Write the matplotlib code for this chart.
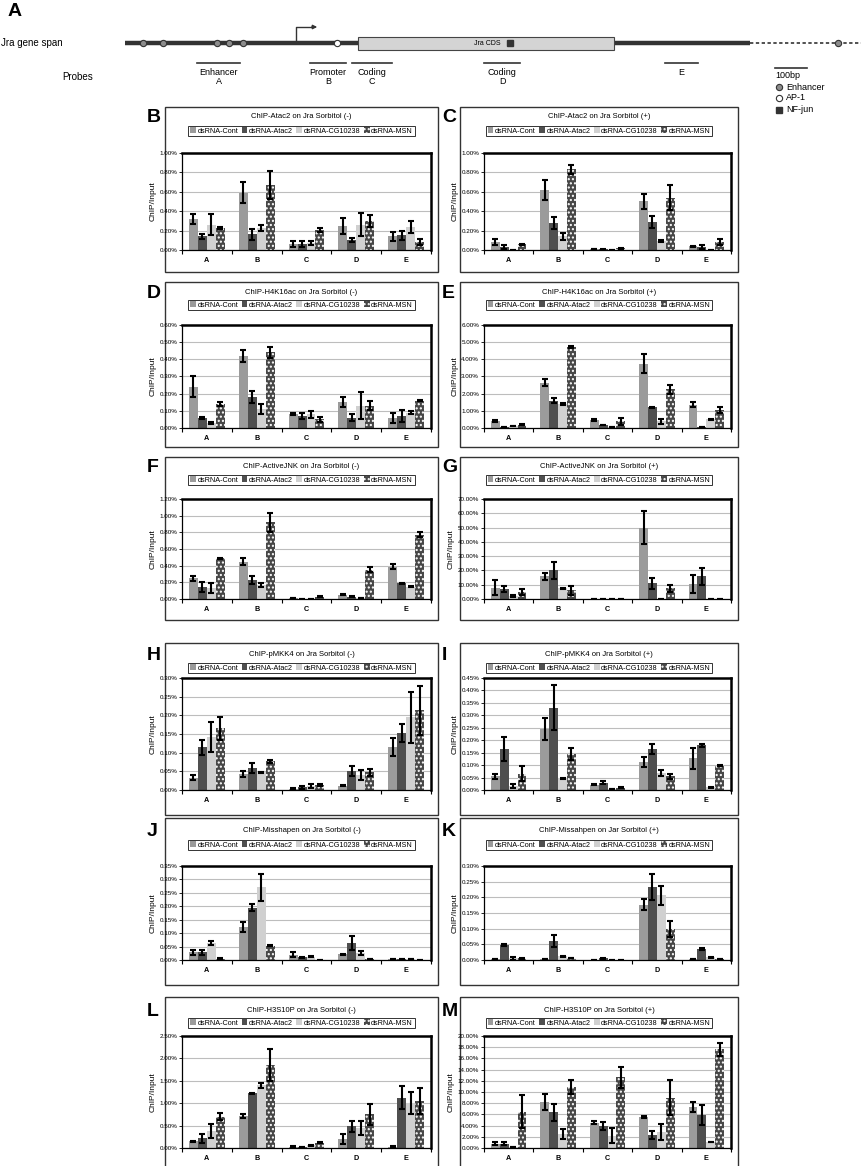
import numpy as np
import matplotlib
matplotlib.use('Agg')
import matplotlib.pyplot as plt
from matplotlib.patches import Rectangle, Patch
from matplotlib.ticker import FuncFormatter

plt.rcParams['font.family'] = ['Liberation Sans', 'DejaVu Sans']
plt.rcParams['hatch.linewidth'] = 1.0

W, H = 861, 1166

probes = ['A', 'B', 'C', 'D', 'E']
series = ['dsRNA-Cont', 'dsRNA-Atac2', 'dsRNA-CG10238', 'dsRNA-MSN']
colors = ['#9b9b9b', '#4f4f4f', '#d0d0d0', '#474747']
msn_hatch = '....'

#
# values in percent ChIP/input, one row per probe (A..E),
# one column per dsRNA (Cont, Atac2, CG10238, MSN)
#
atac2_minus = [[0.32, 0.14, 0.26, 0.23], [0.59, 0.16, 0.23, 0.67], [0.06, 0.06, 0.07, 0.21],
               [0.25, 0.10, 0.26, 0.30], [0.14, 0.15, 0.24, 0.08]]
atac2_minus_err = [[0.05, 0.03, 0.11, 0.01], [0.11, 0.06, 0.03, 0.14], [0.03, 0.03, 0.02, 0.02],
                   [0.08, 0.02, 0.12, 0.06], [0.05, 0.05, 0.06, 0.03]]
atac2_plus = [[0.08, 0.03, 0.005, 0.06], [0.62, 0.28, 0.14, 0.83], [0.01, 0.01, 0.0, 0.02],
              [0.50, 0.29, 0.09, 0.54], [0.04, 0.03, 0.0, 0.08]]
atac2_plus_err = [[0.03, 0.02, 0.0, 0.005], [0.10, 0.06, 0.04, 0.05], [0.0, 0.005, 0.0, 0.005],
                  [0.08, 0.06, 0.01, 0.13], [0.005, 0.02, 0.0, 0.03]]
h4k16_minus = [[0.24, 0.06, 0.03, 0.14], [0.42, 0.18, 0.11, 0.44], [0.08, 0.07, 0.08, 0.05],
               [0.15, 0.06, 0.13, 0.13], [0.06, 0.07, 0.09, 0.16]]
h4k16_minus_err = [[0.06, 0.005, 0.005, 0.01], [0.035, 0.035, 0.03, 0.03], [0.005, 0.015, 0.02, 0.015],
                   [0.03, 0.02, 0.08, 0.025], [0.03, 0.035, 0.01, 0.005]]
h4k16_plus = [[0.40, 0.08, 0.10, 0.20], [2.65, 1.60, 1.40, 4.70], [0.45, 0.18, 0.08, 0.40],
              [3.75, 1.20, 0.40, 2.25], [1.35, 0.08, 0.50, 1.05]]
h4k16_plus_err = [[0.05, 0.0, 0.0, 0.05], [0.20, 0.12, 0.05, 0.05], [0.05, 0.0, 0.0, 0.20],
                  [0.55, 0.05, 0.15, 0.25], [0.15, 0.0, 0.02, 0.15]]
jnk_minus = [[0.25, 0.15, 0.13, 0.49], [0.45, 0.23, 0.17, 0.92], [0.01, 0.0, 0.0, 0.03],
             [0.05, 0.03, 0.01, 0.35], [0.39, 0.19, 0.15, 0.77]]
jnk_minus_err = [[0.03, 0.06, 0.06, 0.005], [0.04, 0.05, 0.02, 0.11], [0.0, 0.0, 0.0, 0.005],
                 [0.005, 0.005, 0.0, 0.03], [0.03, 0.005, 0.005, 0.03]]
jnk_plus = [[8.0, 7.0, 2.0, 5.0], [16.0, 20.0, 7.5, 6.0], [0.0, 0.0, 0.0, 0.0],
            [50.0, 11.0, 0.3, 7.5], [10.5, 16.0, 0.3, 0.2]]
jnk_plus_err = [[5.0, 2.0, 0.5, 2.0], [2.5, 6.0, 0.5, 3.0], [0.0, 0.0, 0.0, 0.0],
                [11.5, 4.0, 0.0, 2.5], [6.0, 6.0, 0.0, 0.0]]
mkk4_minus = [[0.033, 0.115, 0.142, 0.165], [0.043, 0.058, 0.047, 0.077], [0.004, 0.007, 0.010, 0.014],
              [0.012, 0.050, 0.040, 0.047], [0.115, 0.153, 0.195, 0.213]]
mkk4_minus_err = [[0.007, 0.02, 0.04, 0.03], [0.008, 0.013, 0.002, 0.004], [0.001, 0.005, 0.005, 0.002],
                  [0.002, 0.013, 0.013, 0.01], [0.023, 0.025, 0.068, 0.065]]
mkk4_plus = [[0.055, 0.165, 0.015, 0.065], [0.245, 0.33, 0.047, 0.145], [0.022, 0.030, 0.005, 0.010],
             [0.113, 0.165, 0.070, 0.055], [0.128, 0.180, 0.012, 0.097]]
mkk4_plus_err = [[0.01, 0.048, 0.008, 0.03], [0.043, 0.09, 0.002, 0.025], [0.003, 0.005, 0.0, 0.002],
                 [0.02, 0.02, 0.012, 0.01], [0.042, 0.006, 0.002, 0.002]]
msn_minus = [[0.028, 0.028, 0.063, 0.005], [0.123, 0.195, 0.270, 0.053], [0.020, 0.010, 0.012, 0.0],
             [0.022, 0.063, 0.025, 0.003], [0.003, 0.005, 0.005, 0.0]]
msn_minus_err = [[0.01, 0.01, 0.008, 0.001], [0.018, 0.012, 0.05, 0.002], [0.01, 0.002, 0.002, 0.0],
                 [0.002, 0.025, 0.007, 0.0], [0.0, 0.0, 0.0, 0.0]]
msn_plus = [[0.003, 0.047, 0.005, 0.005], [0.002, 0.060, 0.012, 0.006], [0.001, 0.005, 0.001, 0.001],
            [0.177, 0.233, 0.207, 0.100], [0.002, 0.035, 0.008, 0.004]]
msn_plus_err = [[0.0, 0.003, 0.005, 0.002], [0.0, 0.02, 0.002, 0.001], [0.0, 0.001, 0.0, 0.0],
                [0.017, 0.04, 0.03, 0.025], [0.0, 0.002, 0.002, 0.0]]
h3s10_minus = [[0.15, 0.22, 0.38, 0.70], [0.72, 1.22, 1.40, 1.85], [0.03, 0.03, 0.06, 0.12],
               [0.20, 0.48, 0.45, 0.75], [0.03, 1.12, 1.00, 1.05]]
h3s10_minus_err = [[0.01, 0.10, 0.15, 0.08], [0.04, 0.01, 0.06, 0.35], [0.005, 0.0, 0.005, 0.01],
                   [0.12, 0.12, 0.15, 0.23], [0.005, 0.26, 0.25, 0.28]]
h3s10_plus = [[0.8, 0.8, 0.1, 6.5], [8.2, 6.4, 2.5, 10.9], [4.5, 3.9, 2.2, 12.6],
              [5.5, 2.3, 2.8, 9.0], [7.3, 5.9, 1.0, 17.6]]
h3s10_plus_err = [[0.3, 0.3, 0.0, 2.9], [1.4, 1.5, 0.9, 1.2], [0.3, 0.7, 1.3, 1.8],
                  [0.2, 0.7, 1.4, 3.1], [0.9, 1.8, 0.0, 1.2]]

# gene schematic (drawn in figure pixel units)
enhancer_sites = [143, 163, 217, 229, 243, 838]
ap1_sites = [337]
nfjun_sites = [510]
probe_spans = [(197, 240), (310, 346), (352, 392), (484, 520), (665, 698)]
probe_names = ['Enhancer\nA', 'Promoter\nB', 'Coding\nC', 'Coding\nD', 'E']

# panel layout in pixels
cols = {0: (165, 438, 182, 431), 1: (460, 738, 484, 731)}
rows = {0: (107, 272, 153, 250, 117, 131),
        1: (282, 447, 325, 428, 292, 305),
        2: (457, 620, 499, 599, 467, 480),
        3: (643, 815, 678, 790, 655, 668),
        4: (818, 985, 866, 960, 830, 845),
        5: (997, 1172, 1036, 1148, 1010, 1023)}

panels = [
    ('B', 'ChIP-Atac2 on Jra Sorbitol (-)', atac2_minus, atac2_minus_err, 1.0, 0.2, 0, 0),
    ('C', 'ChIP-Atac2 on Jra Sorbitol (+)', atac2_plus, atac2_plus_err, 1.0, 0.2, 1, 0),
    ('D', 'ChIP-H4K16ac on Jra Sorbitol (-)', h4k16_minus, h4k16_minus_err, 0.6, 0.1, 0, 1),
    ('E', 'ChIP-H4K16ac on Jra Sorbitol (+)', h4k16_plus, h4k16_plus_err, 6.0, 1.0, 1, 1),
    ('F', 'ChIP-ActiveJNK on Jra Sorbitol (-)', jnk_minus, jnk_minus_err, 1.2, 0.2, 0, 2),
    ('G', 'ChIP-ActiveJNK on Jra Sorbitol (+)', jnk_plus, jnk_plus_err, 70.0, 10.0, 1, 2),
    ('H', 'ChIP-pMKK4 on Jra Sorbitol (-)', mkk4_minus, mkk4_minus_err, 0.30, 0.05, 0, 3),
    ('I', 'ChIP-pMKK4 on Jra Sorbitol (+)', mkk4_plus, mkk4_plus_err, 0.45, 0.05, 1, 3),
    ('J', 'ChIP-Misshapen on Jra Sorbitol (-)', msn_minus, msn_minus_err, 0.35, 0.05, 0, 4),
    ('K', 'ChIP-Missahpen on Jar Sorbitol (+)', msn_plus, msn_plus_err, 0.30, 0.05, 1, 4),
    ('L', 'ChIP-H3S10P on Jra Sorbitol (-)', h3s10_minus, h3s10_minus_err, 2.5, 0.5, 0, 5),
    ('M', 'ChIP-H3S10P on Jra Sorbitol (+)', h3s10_plus, h3s10_plus_err, 20.0, 2.0, 1, 5),
]

fig = plt.figure(figsize=(W / 100, H / 100), dpi=100)
ax0 = fig.add_axes([0, 0, 1, 1])
ax0.set_xlim(0, W)
ax0.set_ylim(H, 0)
ax0.axis('off')

#
# panel A: the Jra gene schematic
#
ax0.text(8, 12, 'A', fontsize=14, fontweight='bold', va='center', ha='left')
ax0.text(1, 43, 'Jra gene span', fontsize=7, va='center', ha='left')
ax0.plot([125, 750], [43, 43], color='#333333', lw=3.2, solid_capstyle='butt', zorder=1)
ax0.plot([750, 861], [43, 43], color='#333333', lw=1.2, ls=(0, (2, 1.5)), zorder=1)
ax0.add_patch(Rectangle((358, 37), 256, 13, fc='#d4d4d4', ec='#444444', lw=0.8, zorder=2))
ax0.text(487, 43.5, 'Jra CDS', fontsize=5, ha='center', va='center', zorder=3)
ax0.plot(enhancer_sites, [43] * len(enhancer_sites), 'o', ms=4.5, mfc='#8c8c8c', mec='#333333', mew=0.8, zorder=3)
ax0.plot(ap1_sites, [43] * len(ap1_sites), 'o', ms=4.5, mfc='white', mec='#333333', mew=0.8, zorder=3)
ax0.plot(nfjun_sites, [43] * len(nfjun_sites), 's', ms=5, mfc='#333333', mec='#333333', zorder=3)
ax0.plot([296, 296, 311], [43, 27, 27], color='#333333', lw=1.0, zorder=2)
ax0.annotate('', xy=(320, 27), xytext=(309, 27),
             arrowprops=dict(arrowstyle='-|>', color='#333333', lw=1.0, mutation_scale=6))

ax0.text(62, 77, 'Probes', fontsize=7, ha='left', va='center')
for (s, e), name in zip(probe_spans, probe_names):
    ax0.plot([s, e], [63, 63], color='#333333', lw=1.2)
    ax0.text((s + e) / 2, 68, name, fontsize=6.5, ha='center', va='top', linespacing=0.95)

ax0.plot([775, 807], [68, 68], color='#333333', lw=1.2)
ax0.text(775, 76, '100bp', fontsize=6.5, ha='left', va='center')
ax0.plot([779], [87], 'o', ms=4.5, mfc='#8c8c8c', mec='#333333', mew=0.8)
ax0.text(786, 87, 'Enhancer', fontsize=6.5, va='center')
ax0.plot([779], [98], 'o', ms=4.5, mfc='white', mec='#333333', mew=0.8)
ax0.text(786, 98, 'AP-1', fontsize=6.5, va='center')
ax0.plot([779], [110], 's', ms=4.5, mfc='#333333', mec='#333333')
ax0.text(786, 110, 'NF-jun', fontsize=6.5, va='center')

legend_handles = [Patch(fc=colors[0], lw=0), Patch(fc=colors[1], lw=0), Patch(fc=colors[2], lw=0),
                  Patch(fc=colors[3], hatch=msn_hatch, ec='white', lw=0)]

bw = 0.18
x = np.arange(len(probes))
pct = FuncFormatter(lambda v, p: '{0:.2f}%'.format(v))

for letter, title, vals, errs, ymax, ystep, c, r in panels:
    bx0, bx1, px0, px1 = cols[c]
    bt, bb, pt, pb, ty, ly = rows[r]
    ax0.add_patch(Rectangle((bx0, bt), bx1 - bx0, bb - bt, fill=False, ec='#333333', lw=1.0))
    ax0.text(bx0 - 18, ty + 1, letter, fontsize=14, fontweight='bold', ha='left', va='center')
    ax0.text((bx0 + bx1) / 2, ty, title, fontsize=5.5, ha='center', va='center')

    ax = fig.add_axes([px0 / W, 1 - pb / H, (px1 - px0) / W, (pb - pt) / H])
    vals = np.array(vals)
    errs = np.array(errs)
    for j in range(len(series)):
        xs = x + (j - 1.5) * bw
        if j == 3:
            ax.bar(xs, vals[:, j], bw, facecolor=colors[j], hatch=msn_hatch, edgecolor='white', lw=0, zorder=2)
        else:
            ax.bar(xs, vals[:, j], bw, facecolor=colors[j], lw=0, zorder=2)
        ax.errorbar(xs, vals[:, j], yerr=errs[:, j], fmt='none', ecolor='black',
                    elinewidth=1.5, capsize=2.2, capthick=1.5, zorder=3)
    ax.set_xlim(-0.5, 4.5)
    ax.set_ylim(0, ymax)
    ax.set_yticks(np.arange(0, ymax + ystep / 2, ystep))
    ax.yaxis.set_major_formatter(pct)
    ax.grid(axis='y', color='#bdbdbd', lw=0.8, zorder=0)
    ax.set_xticks(x)
    ax.set_xticklabels(probes, fontsize=5.2, fontweight='bold')
    ax.set_xticks(np.arange(-0.5, 5, 1), minor=True)
    ax.tick_params(axis='x', which='major', length=0, pad=5)
    ax.tick_params(axis='x', which='minor', length=3, width=0.8, direction='out')
    ax.tick_params(axis='y', labelsize=4.5, length=2, width=0.6, pad=1.5)
    for side in ['top', 'right']:
        ax.spines[side].set_linewidth(1.8)
    for side in ['left', 'bottom']:
        ax.spines[side].set_linewidth(0.9)
    ax.set_ylabel('ChIP/Input', fontsize=6, labelpad=2)

    leg = fig.legend(legend_handles, series, loc='center',
                     bbox_to_anchor=(((bx0 + bx1) / 2) / W, 1 - ly / H),
                     ncol=4, fontsize=5.2, frameon=True, fancybox=False,
                     edgecolor='#333333', framealpha=1, handlelength=0.8, handleheight=0.8,
                     handletextpad=0.2, columnspacing=0.5, borderpad=0.25, borderaxespad=0)
    leg.get_frame().set_linewidth(0.7)

fig.savefig('out.png', dpi=100)
